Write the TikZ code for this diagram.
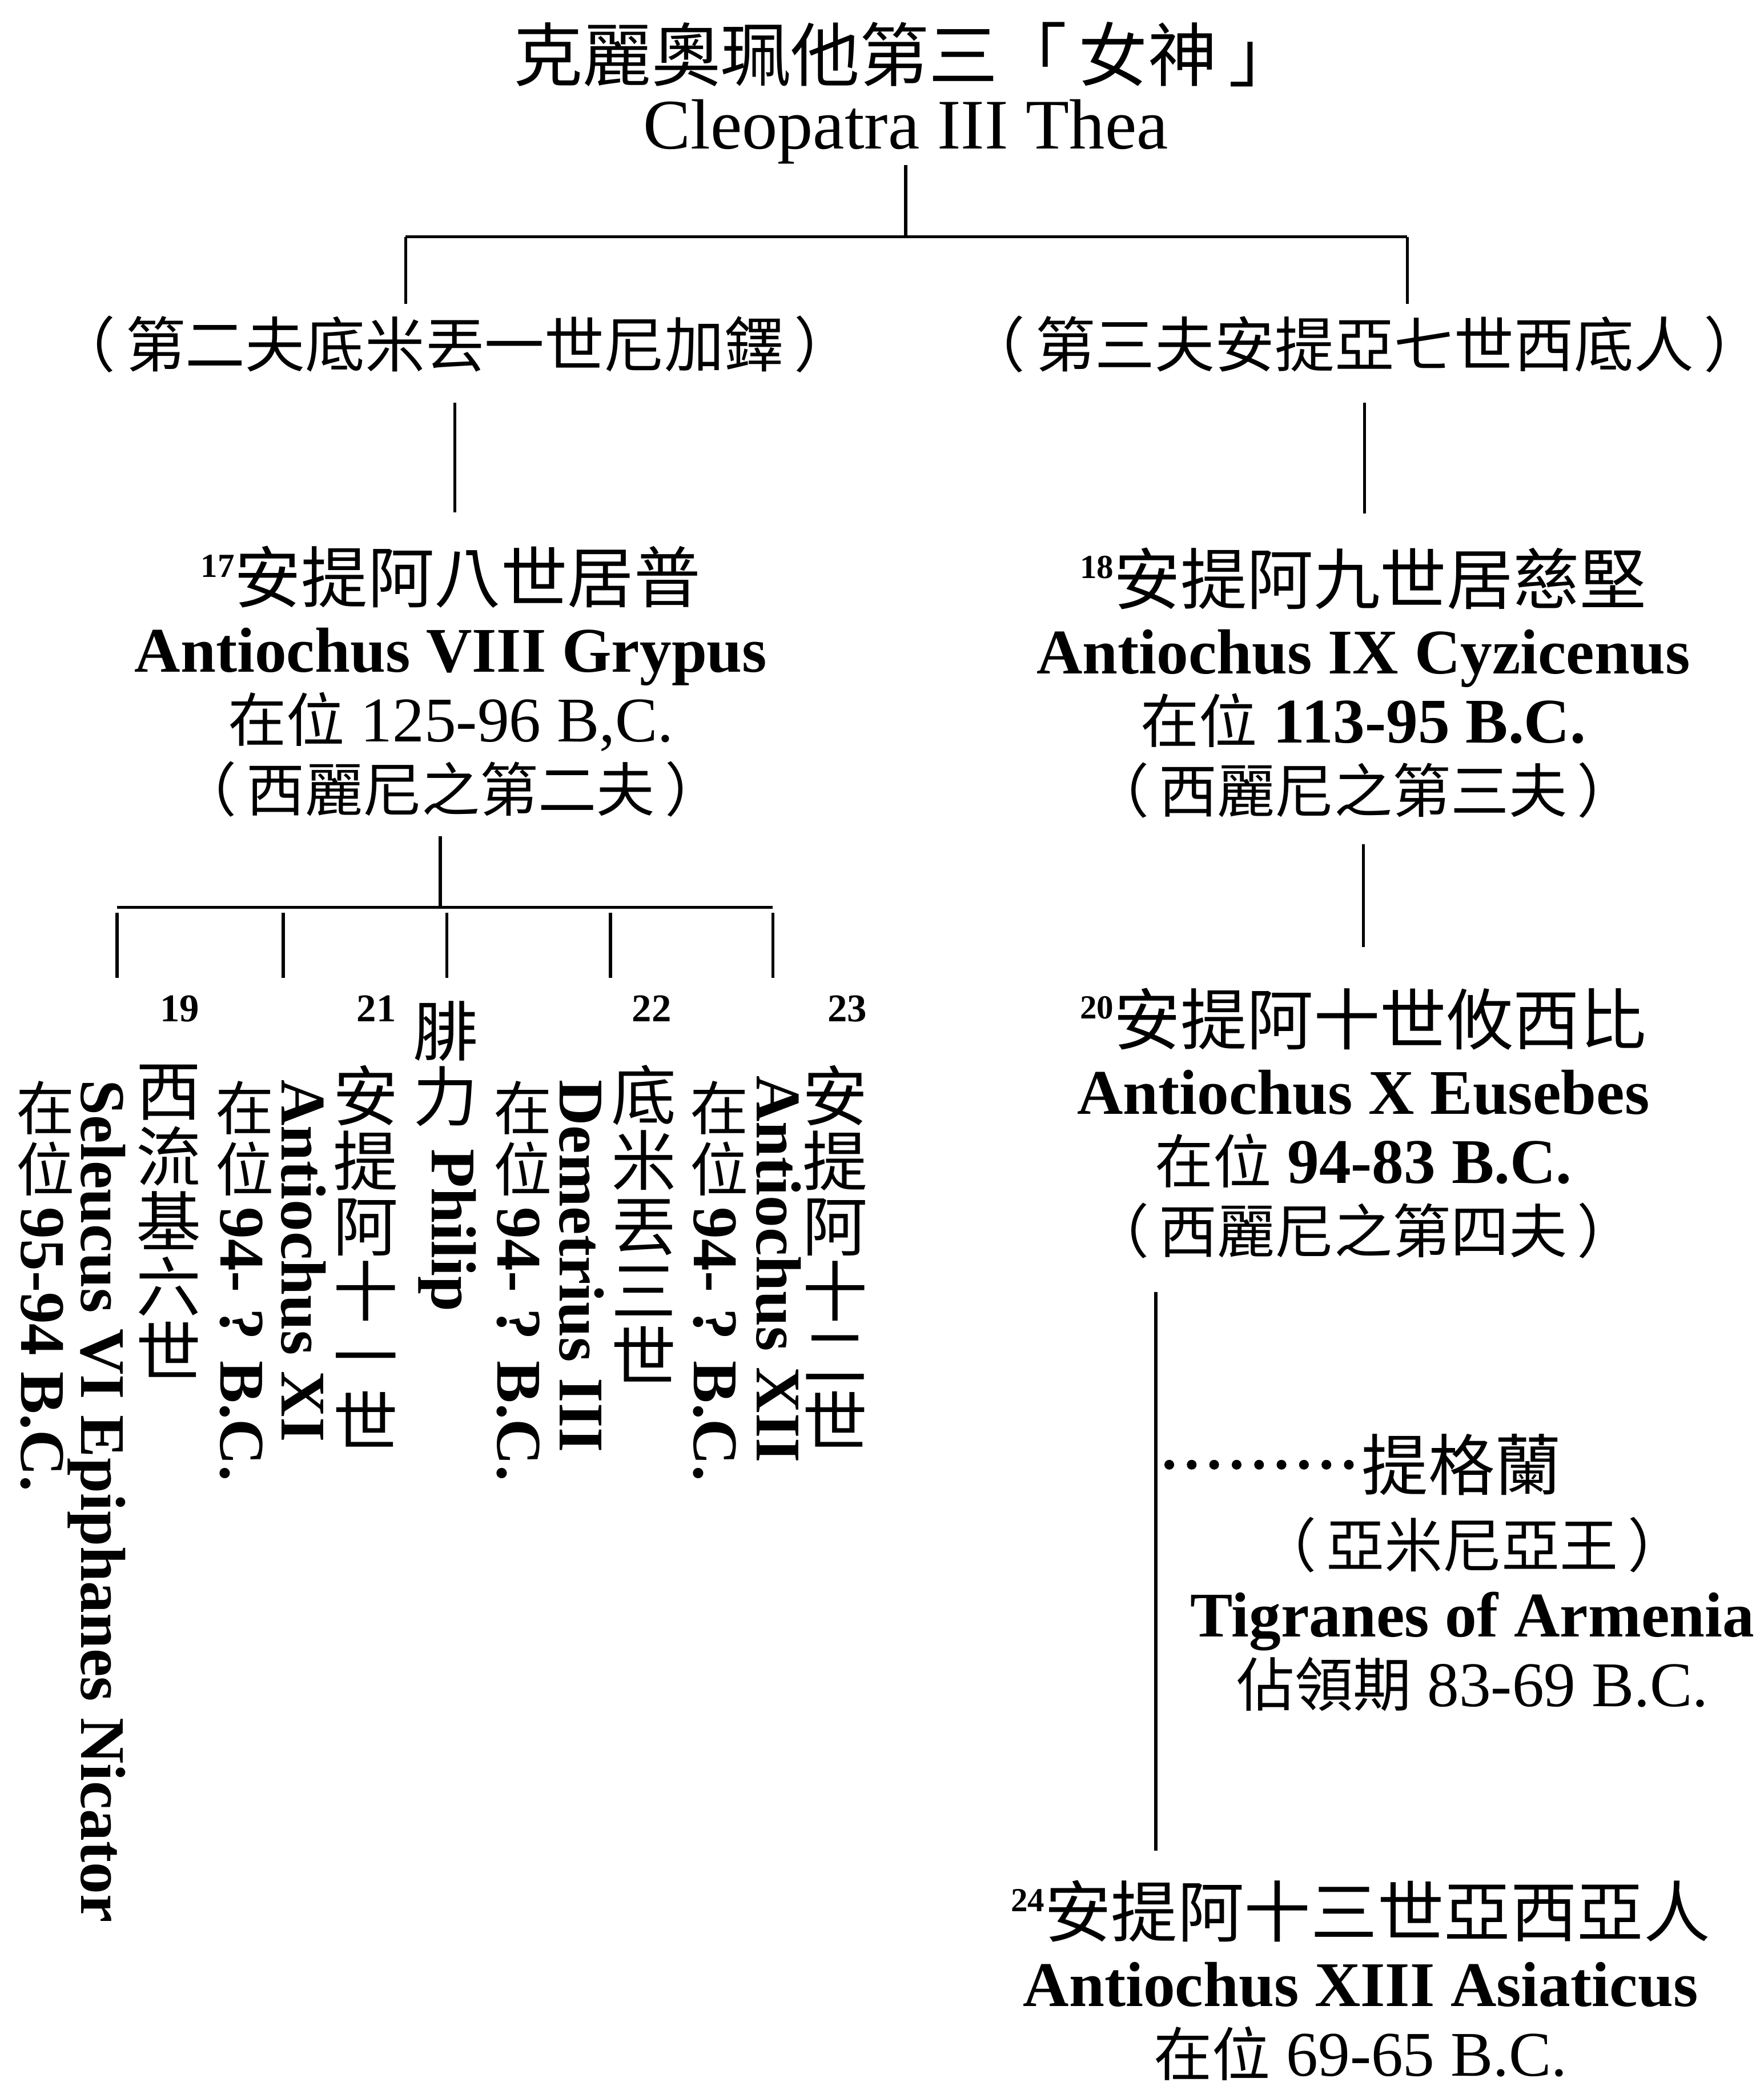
\documentclass[tikz,border=0pt]{standalone}
\usepackage{fontspec}
\setmainfont{Liberation Serif}
\newfontfamily\cjk{Noto Sans CJK TC}
\usetikzlibrary{positioning}

\newcommand{\zh}[1]{{\cjk\fontsize{15.6}{15.6}\selectfont #1}}
\newcommand{\zhb}[1]{{\cjk\fontsize{17.8}{17.8}\selectfont #1}}
\newcommand{\gen}[1]{\raisebox{6.8pt}{\fontsize{9}{9}\selectfont\bfseries #1}}

\begin{document}
\begin{tikzpicture}[x=0.0125cm, y=-0.0125cm,
  every node/.style={inner sep=0pt},
  person/.style={align=center, anchor=north, font=\fontsize{17}{18.6}\selectfont},
  spouse/.style={anchor=base, font=\cjk\fontsize{16}{16}\selectfont},
  vzh/.style={anchor=north, align=center, font=\cjk\fontsize{17.4}{17.43}\selectfont},
  vyear/.style={anchor=north, align=center, font=\cjk\fontsize{15.6}{16.4}\selectfont},
  vlat/.style={rotate=-90, anchor=base west, font=\fontsize{17}{17}\selectfont\bfseries},
  num/.style={anchor=base, font=\fontsize{10.5}{10.5}\selectfont\bfseries},
  link/.style={line width=0.8pt},
  dotline/.style={line width=2.6pt, line cap=round, dash pattern=on 0pt off 6pt}]

\useasboundingbox (0,0) rectangle (1326,1568);

% Cleopatra and her husbands
\node[person, font=\fontsize{19}{18.2}\selectfont] (cleo) at (681,16)
  {{\cjk\fontsize{18.5}{18.5}\selectfont 克麗奧珮他第三「\,女神\,」}\\ Cleopatra III Thea};

\node[spouse] (dem1) at (342,276) {（\,第二夫底米丟一世尼加鐸\,）};
\node[spouse] (ant7) at (1026,276) {（\,第三夫安提亞七世西底人\,）};

% kings
\node[person] (ant8) at (339,410) {\gen{17}\zhb{安提阿八世居普}\\
  \textbf{Antiochus VIII Grypus}\\
  \zh{在位} 125-96 B,C.\\
  \zh{（\,西麗尼之第二夫\,）}};
\node[person] (ant9) at (1025,411) {\gen{18}\zhb{安提阿九世居慈堅}\\
  \textbf{Antiochus IX Cyzicenus}\\
  \zh{在位} \textbf{113-95 B.C.}\\
  \zh{（\,西麗尼之第三夫\,）}};
\node[person] (ant10) at (1025,742) {\gen{20}\zhb{安提阿十世攸西比}\\
  \textbf{Antiochus X Eusebes}\\
  \zh{在位} \textbf{94-83 B.C.}\\
  \zh{（\,西麗尼之第四夫\,）}};
\node[person] (ant13) at (1023,1413) {\gen{24}\zhb{安提阿十三世亞西亞人}\\
  \textbf{Antiochus XIII Asiaticus}\\
  \zh{在位} 69-65 B.C.};

\node[anchor=base, font=\cjk\fontsize{17.8}{17.8}\selectfont] (tig) at (1099,1120) {提格蘭};
\node[person] (tiginfo) at (1107,1140) {\zh{（\,亞米尼亞王\,）}\\
  \textbf{Tigranes of Armenia}\\
  \zh{佔領期} 83-69 B.C.};

% sons of Grypus, columns read right to left
\node[num] (n19) at (135,768) {19};
\node[vzh] (sel6) at (127,800) {西\\流\\基\\六\\世};
\node[vlat] (sel6e) at (61,811) {Seleucus VI Epiphanes Nicator};
\node[vyear] (sel6y) at (34,812) {在\\位};
\node[vlat] (sel6d) at (16,907) {95-94 B.C.};

\node[num] (n21) at (283,768) {21};
\node[vzh] (ant11) at (275,800) {安\\提\\阿\\十\\一\\世};
\node[vlat] (ant11e) at (212,811) {Antiochus XI};
\node[vyear] (ant11y) at (184,812) {在\\位};
\node[vlat] (ant11d) at (166,907) {94- ? B.C.};

\node[vzh] (phil) at (335,752) {腓\\力};
\node[vlat] (phile) at (325,863) {Philip};

\node[num] (n22) at (490,768) {22};
\node[vzh] (dem3) at (484,800) {底\\米\\丟\\三\\世};
\node[vlat] (dem3e) at (421,811) {Demetrius III};
\node[vyear] (dem3y) at (393,812) {在\\位};
\node[vlat] (dem3d) at (374,907) {94- ? B.C.};

\node[num] (n23) at (637,768) {23};
\node[vzh] (ant12) at (628,800) {安\\提\\阿\\十\\二\\世};
\node[vlat] (ant12e) at (569,808) {Antiochus XII};
\node[vyear] (ant12y) at (541,812) {在\\位};
\node[vlat] (ant12d) at (522,907) {94- ? B.C.};

% tree lines
\coordinate (bar) at (681,178);
\coordinate (barL) at (305,178);
\coordinate (barR) at (1058,178);
\coordinate (kbar) at (331,682);
\coordinate (t19) at (88,735);
\coordinate (t21) at (213,735);
\coordinate (tph) at (336,735);
\coordinate (t22) at (459,735);
\coordinate (t23) at (581,735);
\coordinate (trunk) at (869,971);

\draw[link] (cleo) -- (bar);
\draw[link] (barL) -- (barR);
\draw[link, shorten >=3pt] (barL) -- (barL |- dem1.north);
\draw[link, shorten >=3pt] (barR) -- (barR |- ant7.north);
\draw[link, shorten <=7.8pt, shorten >=8.9pt] (dem1.south) -- (dem1.south |- ant8.north);
\draw[link, shorten <=7.8pt, shorten >=8.9pt] (ant7.south) -- (ant7.south |- ant9.north);
\draw[link, shorten <=5pt] (kbar |- ant8.south) -- (kbar);
\draw[link] (t19 |- kbar) -- (t23 |- kbar);
\foreach \t in {t19,t21,tph,t22,t23}
  \draw[link, shorten <=1.4pt] (\t |- kbar) -- (\t);
\draw[link, shorten <=6.8pt, shorten >=10.7pt] (ant9) -- (ant10);
\draw[link, shorten >=7.8pt] (trunk) -- (trunk |- ant13.north);
\draw[dotline, shorten <=3.6pt, shorten >=3.2pt] (trunk |- tig) -- (tig);

\end{tikzpicture}
\end{document}
